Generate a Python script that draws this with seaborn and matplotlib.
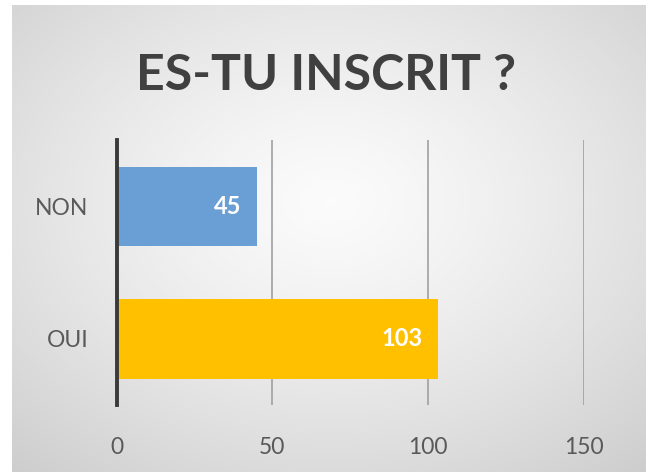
import numpy as np
import pandas as pd
import matplotlib
matplotlib.use("Agg")
import matplotlib.pyplot as plt
import seaborn as sns

categories = ["NON", "OUI"]
values = [45, 103]
bar_colors = ["#6A9FD5", "#FFC000"]
x_ticks = [0, 50, 100, 150]
title = "ES-TU INSCRIT ?"

df = pd.DataFrame({"reponse": categories, "nombre": values})

sns.set_theme(style="white")
plt.rcParams["font.family"] = ["Lato", "DejaVu Sans"]

W, H = 646, 472
fig = plt.figure(figsize=(W / 100, H / 100), dpi=100)
fig.patch.set_facecolor("white")

# background with radial gradient
x0, y0 = 12 / W, 0.0
bg = fig.add_axes([x0, y0, 1 - x0, 1 - 5 / H], zorder=0)
ny, nx = 300, 400
yy, xx = np.mgrid[0:ny, 0:nx]
cx, cy = nx * 0.5, ny * 0.42
r = np.sqrt(((xx - cx) / nx) ** 2 + ((yy - cy) / ny) ** 2)
r = r / r.max()
val = 0.985 - 0.18 * r ** 1.3
img = np.dstack([val, val, val])
bg.imshow(img, aspect="auto", extent=[0, 1, 0, 1], origin="upper")
bg.set_axis_off()

ax = fig.add_axes([116.5 / W, 1 - 405 / H, (584 - 116.5) / W, 265 / H], zorder=1)
ax.patch.set_alpha(0)
sns.barplot(data=df, x="nombre", y="reponse", hue="reponse", palette=bar_colors,
            order=categories, width=0.6, legend=False, ax=ax, saturation=1,
            linewidth=0, edgecolor="none")
ax.set_xlim(0, 150)
ax.set_ylim(1.5, -0.5)
ax.set_xticks(x_ticks)
ax.grid(axis="x", color="#a0a0a0", linewidth=1.2)
ax.set_axisbelow(True)
for s in ["top", "right", "bottom"]:
    ax.spines[s].set_visible(False)
ax.spines["left"].set_color("#3a3a3a")
ax.spines["left"].set_linewidth(2.8)
ax.spines["left"].set_zorder(5)
ax.set_xlabel("")
ax.set_ylabel("")
ax.tick_params(axis="x", length=0, pad=23, labelsize=16.5, labelcolor="#595959")
ax.tick_params(axis="y", length=0, pad=20, labelsize=16.5, labelcolor="#595959")

for i, v in enumerate(values):
    ax.annotate(str(v), xy=(v, i), xytext=(-11, 0), textcoords="offset points",
                ha="right", va="center", color="white",
                fontsize=17, fontweight="bold")

fig.text(0.505, 1 - 75 / H, title, ha="center", va="center",
         fontsize=36, fontweight="bold", color="#404040")

fig.savefig("out.png", dpi=100)
